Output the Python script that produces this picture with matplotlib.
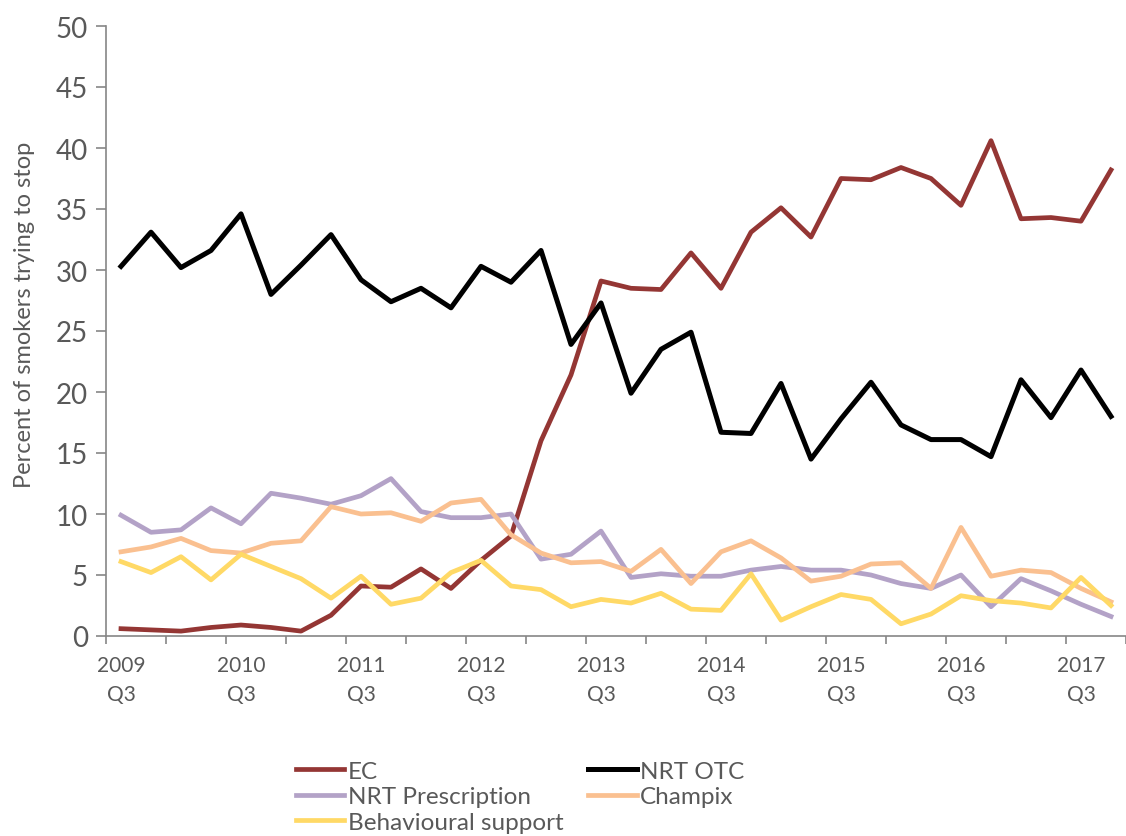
import numpy as np
import matplotlib.pyplot as plt

plt.rcParams['font.family'] = ['Lato', 'DejaVu Sans']

# quarterly data, 2009 Q3 .. 2017 Q4
quarters = ['2009\nQ3', '', '', '', '2010\nQ3', '', '', '', '2011\nQ3', '', '', '',
            '2012\nQ3', '', '', '', '2013\nQ3', '', '', '', '2014\nQ3', '', '', '',
            '2015\nQ3', '', '', '', '2016\nQ3', '', '', '', '2017\nQ3', '']

ec = [0.6, 0.5, 0.4, 0.7, 0.9, 0.7, 0.4, 1.7, 4.1, 4.0, 5.5, 3.9, 6.2, 8.2, 16.0, 21.4,
      29.1, 28.5, 28.4, 31.4, 28.5, 33.1, 35.1, 32.7, 37.5, 37.4, 38.4, 37.5, 35.3, 40.6,
      34.2, 34.3, 34.0, 38.2]
nrt_otc = [30.3, 33.1, 30.2, 31.6, 34.6, 28.0, 30.4, 32.9, 29.2, 27.4, 28.5, 26.9, 30.3, 29.0,
           31.6, 23.9, 27.3, 19.9, 23.5, 24.9, 16.7, 16.6, 20.7, 14.5, 17.8, 20.8, 17.3, 16.1,
           16.1, 14.7, 21.0, 17.9, 21.8, 18.0]
nrt_rx = [9.9, 8.5, 8.7, 10.5, 9.2, 11.7, 11.3, 10.8, 11.5, 12.9, 10.2, 9.7, 9.7, 10.0,
          6.3, 6.7, 8.6, 4.8, 5.1, 4.9, 4.9, 5.4, 5.7, 5.4, 5.4, 5.0, 4.3, 3.9, 5.0, 2.4,
          4.7, 3.7, 2.6, 1.6]
champix = [6.9, 7.3, 8.0, 7.0, 6.8, 7.6, 7.8, 10.6, 10.0, 10.1, 9.4, 10.9, 11.2, 8.3,
           6.8, 6.0, 6.1, 5.3, 7.1, 4.3, 6.9, 7.8, 6.4, 4.5, 4.9, 5.9, 6.0, 3.9, 8.9, 4.9,
           5.4, 5.2, 3.9, 2.8]
behav = [6.1, 5.2, 6.5, 4.6, 6.7, 5.7, 4.7, 3.1, 4.9, 2.6, 3.1, 5.2, 6.2, 4.1, 3.8, 2.4,
         3.0, 2.7, 3.5, 2.2, 2.1, 5.1, 1.3, 2.4, 3.4, 3.0, 1.0, 1.8, 3.3, 2.9, 2.7, 2.3,
         4.8, 2.5]

x = np.arange(len(ec))

fig = plt.figure(figsize=(11.26, 8.37), dpi=100)
ax = fig.add_axes([106 / 1126, 200 / 837, 1020 / 1126, 610 / 837])

l_ec, = ax.plot(x, ec, color='#943634', lw=3.4, label='EC')
l_otc, = ax.plot(x, nrt_otc, color='black', lw=3.6, label='NRT OTC')
l_rx, = ax.plot(x, nrt_rx, color='#B3A2C7', lw=3.4, label='NRT Prescription')
l_ch, = ax.plot(x, champix, color='#FAC090', lw=3.4, label='Champix')
l_bs, = ax.plot(x, behav, color='#FFD966', lw=3.4, label='Behavioural support')

ax.set_xlim(-0.5, -0.5 + 1020 / 30.15)
ax.set_ylim(0, 50)
ax.set_yticks(range(0, 51, 5))
ax.tick_params(axis='y', labelsize=20, colors='#595959', length=7, width=1.2,
               color='#868686', pad=6)
ax.set_xticks(np.arange(-0.5, 34, 2))
ax.set_xticklabels([])
ax.set_xticks(x, quarters, minor=True)
ax.tick_params(axis='x', which='major', length=6, width=1.2, color='#868686')
ax.tick_params(axis='x', which='minor', length=0, labelsize=15, colors='#595959', pad=14)
for lbl in ax.get_xticklabels(minor=True):
    lbl.set_linespacing(1.55)

for s in ['top', 'right']:
    ax.spines[s].set_visible(False)
for s in ['left', 'bottom']:
    ax.spines[s].set_color('#868686')
    ax.spines[s].set_linewidth(1.2)

ax.set_ylabel('Percent of smokers trying to stop', fontsize=17, color='#595959')
ax.yaxis.set_label_coords(-0.07, 0.528)

fig.legend([l_ec, l_rx, l_bs, l_otc, l_ch],
           ['EC', 'NRT Prescription', 'Behavioural support', 'NRT OTC', 'Champix'],
           ncol=2, loc='upper left', bbox_to_anchor=(274 / 1126, 1 - 740 / 837),
           frameon=False, fontsize=17.5, handlelength=2.0, handletextpad=0.15,
           columnspacing=1.0, labelspacing=0.18, labelcolor='#595959')

fig.savefig('out.png', dpi=100)
